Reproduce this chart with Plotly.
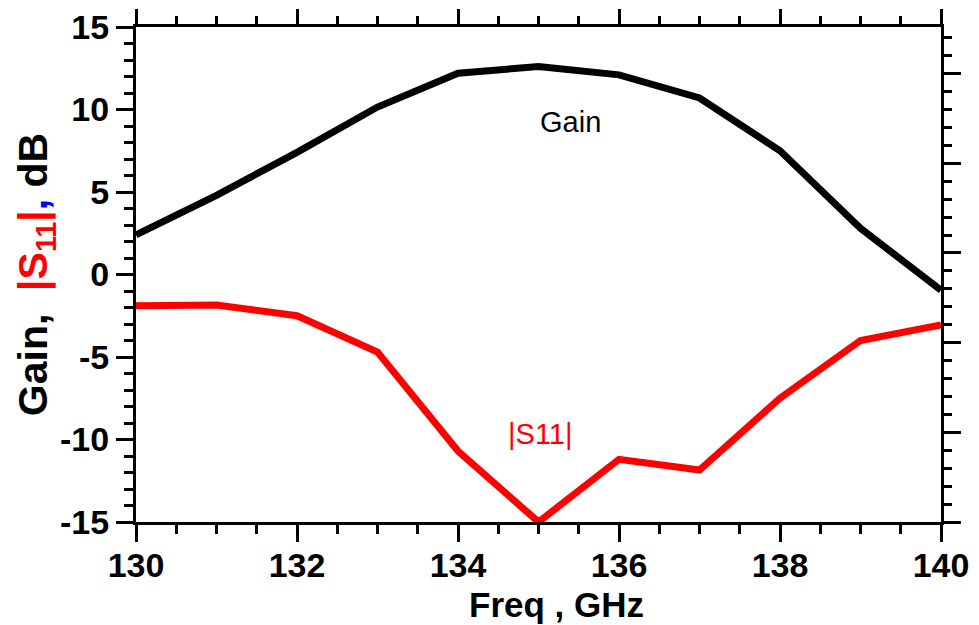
import plotly.graph_objects as go

freq = [130, 131, 132, 133, 134, 135, 136, 137, 138, 139, 140]
gain_db = [2.4, 4.8, 7.4, 10.15, 12.2, 12.6, 12.1, 10.7, 7.5, 2.8, -0.95]
s11_db = [-1.9, -1.85, -2.5, -4.7, -10.7, -15.0, -11.2, -11.85, -7.5, -4.0, -3.05]
x_ticks = [130, 132, 134, 136, 138, 140]
y_ticks = [-15, -10, -5, 0, 5, 10, 15]
y_tick_text = ["-15", "-10", "-5", "0", "5", "10", "15"]

FONT = "Liberation Sans, Arial, sans-serif"

fig = go.Figure()
fig.add_trace(go.Scatter(x=freq, y=gain_db, mode="lines", name="Gain",
                         line=dict(color="black", width=7)))
fig.add_trace(go.Scatter(x=freq, y=s11_db, mode="lines", name="|S11|",
                         line=dict(color="#ff0000", width=7)))
fig.add_trace(go.Scatter(x=[130], y=[2.5], xaxis="x2", yaxis="y2", mode="lines",
                         line=dict(width=0), showlegend=False, hoverinfo="skip"))

tickfont = dict(family=FONT, size=34, color="black", weight="bold")

fig.update_layout(
    width=971, height=617,
    margin=dict(l=128, r=38, t=19, b=103),
    paper_bgcolor="white", plot_bgcolor="white",
    showlegend=False,
    xaxis=dict(range=[130, 140], tickvals=x_ticks, ticks="outside",
               ticklen=17, tickwidth=3, tickcolor="black",
               showline=True, linewidth=3, linecolor="black",
               showgrid=False, zeroline=False, tickfont=tickfont,
               automargin=False, ticklabelstandoff=-6,
               ticklabeloverflow="allow",
               minor=dict(dtick=0.5, tick0=130, ticks="outside", ticklen=9,
                          tickwidth=3, tickcolor="black", showgrid=False)),
    yaxis=dict(range=[-15, 15], tickvals=y_ticks, ticktext=y_tick_text,
               ticks="outside",
               ticklen=17, tickwidth=3, tickcolor="black",
               showline=True, linewidth=3, linecolor="black",
               showgrid=False, zeroline=False, tickfont=tickfont,
               automargin=False, ticklabeloverflow="allow",
               minor=dict(dtick=1, tick0=0, ticks="outside", ticklen=9,
                          tickwidth=3, tickcolor="black", showgrid=False),
               title=dict(text="Gain,&nbsp; <span style='color:#ff0000'>|S<sub>11</sub>|</span>"
                               "<span style='color:#0000ff'>,</span> dB",
                          standoff=0,
                          font=dict(family=FONT, size=41, color="black",
                                    weight="bold"))),
    xaxis2=dict(overlaying="x", side="top", anchor="y", matches="x",
                range=[130, 140], dtick=2, tick0=130, ticks="outside",
                ticklen=15, tickwidth=3, tickcolor="black",
                showline=True, linewidth=3, linecolor="black",
                showgrid=False, zeroline=False, showticklabels=False,
                automargin=False,
                minor=dict(dtick=0.5, tick0=130, ticks="outside", ticklen=8,
                           tickwidth=3, tickcolor="black", showgrid=False)),
    yaxis2=dict(overlaying="y", side="right", anchor="x",
                range=[0, 5.52], dtick=1, tick0=0, ticks="outside",
                ticklen=17, tickwidth=3, tickcolor="black",
                showline=True, linewidth=3, linecolor="black",
                showgrid=False, zeroline=False, showticklabels=False,
                automargin=False,
                minor=dict(dtick=0.2, tick0=0, ticks="outside", ticklen=8,
                           tickwidth=3, tickcolor="black", showgrid=False)),
    annotations=[
        dict(x=135.4, y=9.24, xref="x", yref="y", text="Gain", showarrow=False,
             font=dict(family=FONT, size=29, color="black")),
        dict(x=135.02, y=-9.67, xref="x", yref="y", text="|S11|", showarrow=False,
             font=dict(family=FONT, size=29, color="#ff0000")),
        dict(x=0.522, y=-0.166, xref="paper", yref="paper", text="Freq , GHz",
             showarrow=False, xanchor="center", yanchor="middle",
             font=dict(family=FONT, size=35, color="black", weight="bold")),
    ],
)

fig.write_html("out.html")
